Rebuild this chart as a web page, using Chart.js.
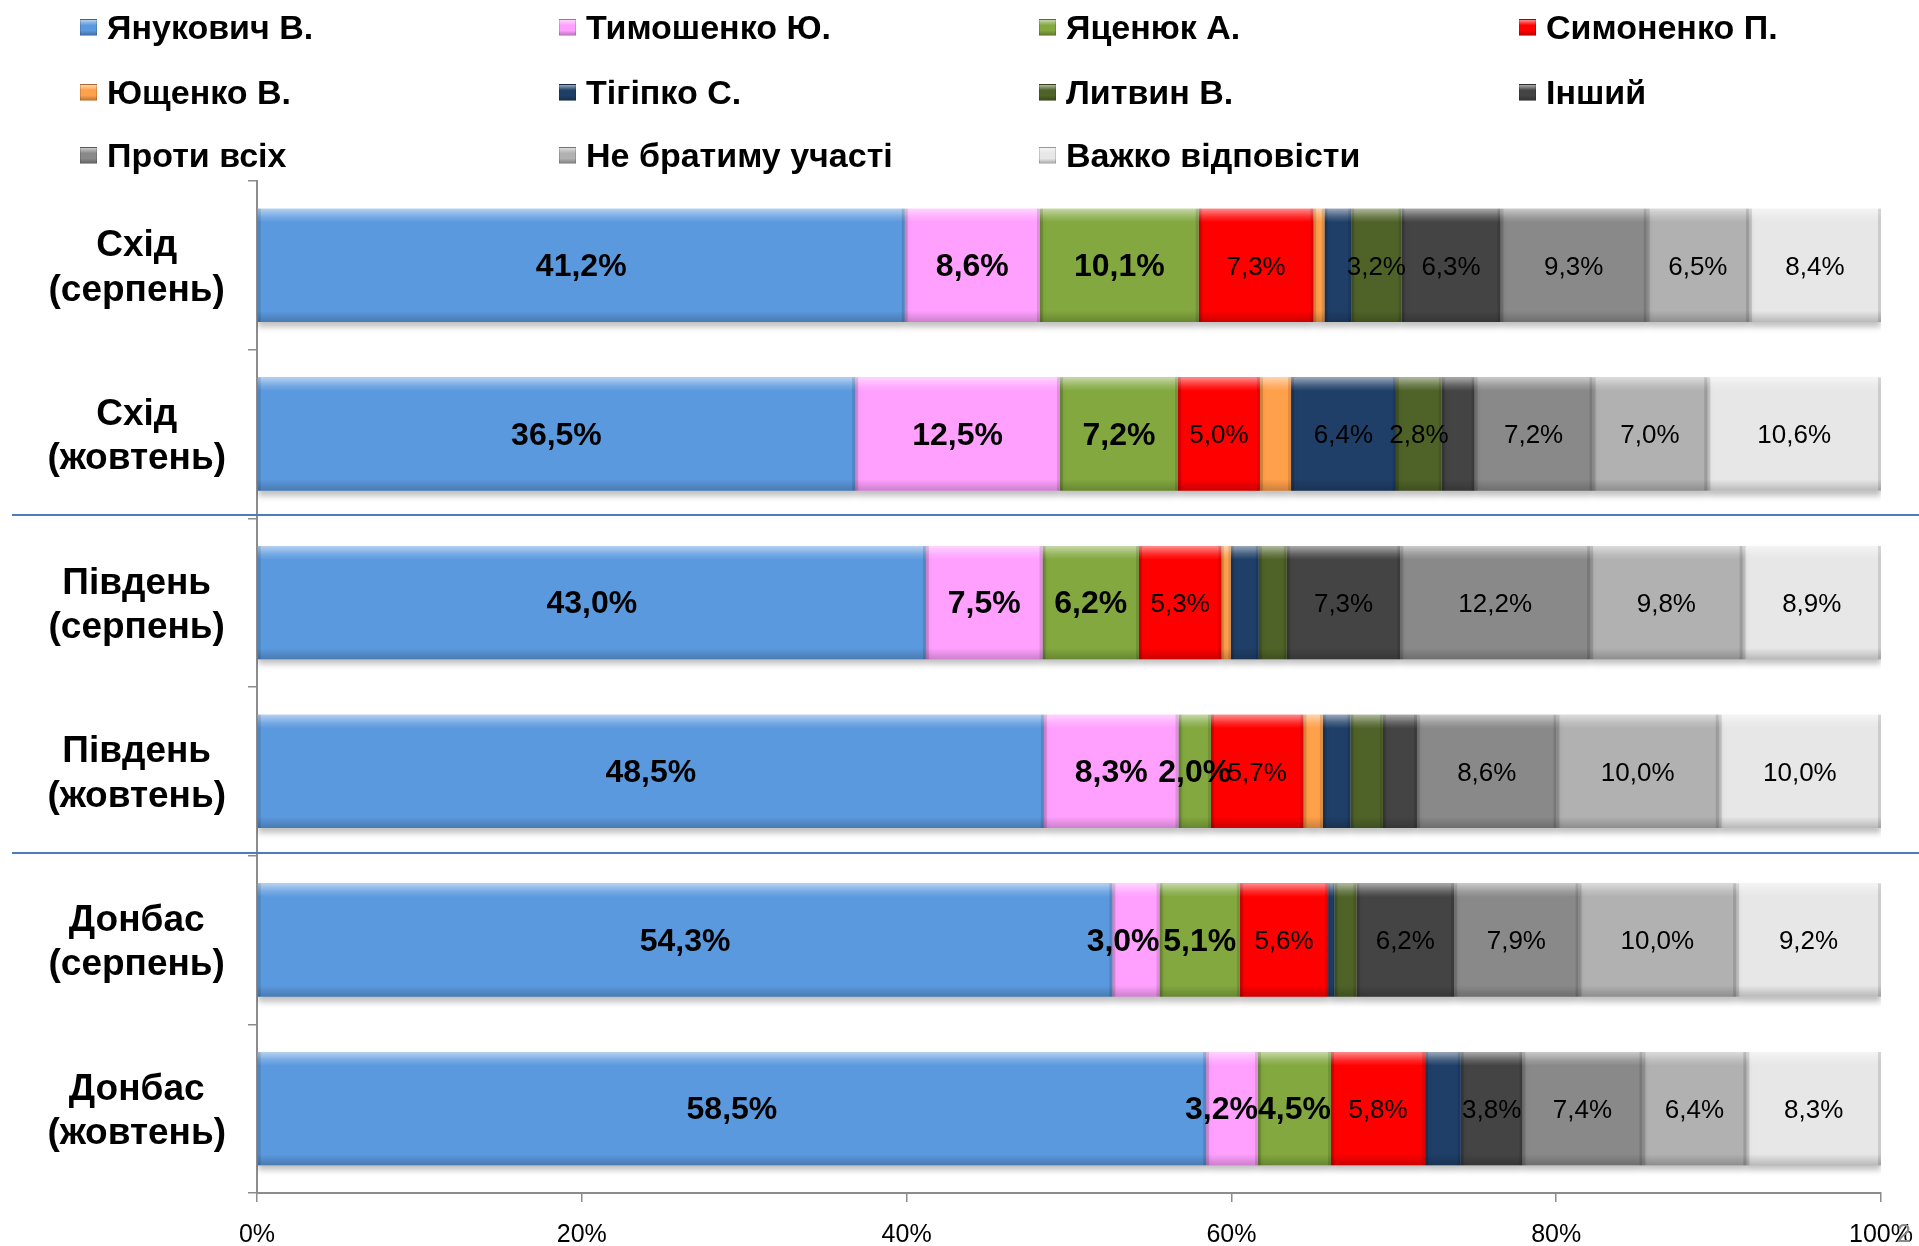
<!DOCTYPE html>
<html lang="uk">
<head>
<meta charset="utf-8">
<script src="https://cdn.jsdelivr.net/npm/chart.js@4.4.1/dist/chart.umd.min.js"></script>
<style>
  html, body { margin: 0; padding: 0; background: #fff; }
  #wrap { position: relative; width: 1919px; height: 1246px; font-family: 'Liberation Sans', Arial, sans-serif; }
  #chart { position: absolute; left: 0; top: 0; }
  .item { position: absolute; height: 40px; display: flex; align-items: center; font-weight: bold; font-size: 34px; color: #000; white-space: nowrap; }
  .box { width: 17px; height: 17px; margin-right: 10px; box-sizing: border-box; }
  #pagenum { position: absolute; left: 1897px; top: 1219px; font-size: 25px; color: #8a8a8a; }
</style>
</head>
<body>
<div id="wrap">
  <canvas id="chart" width="1919" height="1246"></canvas>
  <div id="legend"></div>
  <span id="pagenum">2</span>
</div>
<script>
// regions / months
const categories = [
  ['Схід', '(серпень)'],
  ['Схід', '(жовтень)'],
  ['Південь', '(серпень)'],
  ['Південь', '(жовтень)'],
  ['Донбас', '(серпень)'],
  ['Донбас', '(жовтень)']
];

const seriesNames = ['Янукович В.', 'Тимошенко Ю.', 'Яценюк А.', 'Симоненко П.', 'Ющенко В.',
  'Тігіпко С.', 'Литвин В.', 'Інший', 'Проти всіх', 'Не братиму участі', 'Важко відповісти'];

const yanukovych = [41.2, 36.5, 43.0, 48.5, 54.3, 58.5];
const tymoshenko = [8.6, 12.5, 7.5, 8.3, 3.0, 3.2];
const yatseniuk  = [10.1, 7.2, 6.2, 2.0, 5.1, 4.5];
const symonenko  = [7.3, 5.0, 5.3, 5.7, 5.6, 5.8];
const yushchenko = [0.7, 1.9, 0.6, 1.2, 0, 0];
const tihipko    = [1.7, 6.4, 1.8, 1.7, 0.4, 2.2];
const lytvyn     = [3.2, 2.8, 1.8, 2.0, 1.4, 0];
const other      = [6.3, 2.0, 7.3, 2.1, 6.2, 3.8];
const against    = [9.3, 7.2, 12.2, 8.6, 7.9, 7.4];
const notVoting  = [6.5, 7.0, 9.8, 10.0, 10.0, 6.4];
const hardToSay  = [8.4, 10.6, 8.9, 10.0, 9.2, 8.3];

const seriesValues = [yanukovych, tymoshenko, yatseniuk, symonenko, yushchenko,
  tihipko, lytvyn, other, against, notVoting, hardToSay];

// which segments carry a value label (1 = shown)
const labelShown = [
  [1, 1, 1, 1, 1, 1],
  [1, 1, 1, 1, 1, 1],
  [1, 1, 1, 1, 1, 1],
  [1, 1, 1, 1, 1, 1],
  [0, 0, 0, 0, 0, 0],
  [0, 1, 0, 0, 0, 0],
  [1, 1, 0, 0, 0, 0],
  [1, 0, 1, 0, 1, 1],
  [1, 1, 1, 1, 1, 1],
  [1, 1, 1, 1, 1, 1],
  [1, 1, 1, 1, 1, 1]
];

const xTicks = [0, 20, 40, 60, 80, 100];

const colors = ['#5b99de', '#ffa0ff', '#82a83f', '#ff0000', '#ffa04a', '#1f3f68',
  '#4f6328', '#444444', '#898989', '#b1b1b1', '#e7e7e7'];

const FONT = "'Liberation Sans', Arial, sans-serif";

// Excel-style 100% stacking: every row is scaled to its own total
const rowTotals = categories.map((c, i) => seriesValues.reduce((s, arr) => s + arr[i], 0));

const datasets = seriesNames.map((name, k) => ({
  label: name,
  data: seriesValues[k].map((v, i) => v / rowTotals[i] * 100),
  backgroundColor: colors[k],
  borderWidth: 0,
  barPercentage: 0.672,
  categoryPercentage: 1
}));

// html legend, four columns
const legendCols = [80, 559, 1039, 1519];
const legendRows = [27, 92, 155];
const legendEl = document.getElementById('legend');
seriesNames.forEach((name, k) => {
  const item = document.createElement('div');
  item.className = 'item';
  item.style.left = legendCols[k % 4] + 'px';
  item.style.top = (legendRows[Math.floor(k / 4)] - 20) + 'px';
  const box = document.createElement('span');
  box.className = 'box';
  box.style.background = `linear-gradient(to bottom, rgba(255,255,255,0.55), rgba(255,255,255,0) 35%, rgba(0,0,0,0) 70%, rgba(0,0,0,0.25)), ${colors[k]}`;
  box.style.border = '1px solid rgba(0,0,0,0.15)';
  item.appendChild(box);
  item.appendChild(document.createTextNode(name));
  legendEl.appendChild(item);
});

const fmt = v => v.toFixed(1).replace('.', ',') + '%';

const barStyle = {
  id: 'barStyle',
  beforeDatasetsDraw(chart) {
    const c = chart.ctx;
    c.save();
    c.shadowColor = 'rgba(0,0,0,0.25)';
    c.shadowBlur = 6;
    c.shadowOffsetY = 5;
  },
  afterDatasetsDraw(chart) {
    const c = chart.ctx;
    c.restore();
    chart.data.datasets.forEach((ds, k) => {
      chart.getDatasetMeta(k).data.forEach((bar, i) => {
        const { x, y, base, height } = bar.getProps(['x', 'y', 'base', 'height'], true);
        const left = Math.min(x, base);
        const w = Math.abs(x - base);
        if (w < 0.5) return;
        const top = y - height / 2;
        const g = c.createLinearGradient(0, top, 0, top + height);
        g.addColorStop(0, 'rgba(255,255,255,0.55)');
        g.addColorStop(0.07, 'rgba(255,255,255,0.18)');
        g.addColorStop(0.12, 'rgba(255,255,255,0)');
        g.addColorStop(0.9, 'rgba(0,0,0,0)');
        g.addColorStop(1, 'rgba(0,0,0,0.2)');
        c.fillStyle = g;
        c.fillRect(left, top, w, height);
        const e = Math.min(3, w / 4);
        c.fillStyle = 'rgba(0,0,0,0.12)';
        c.fillRect(left, top, e, height);
        c.fillRect(left + w - e, top, e, height);
      });
    });
    // value labels
    c.save();
    c.fillStyle = '#000';
    c.textBaseline = 'middle';
    chart.data.datasets.forEach((ds, k) => {
      c.font = k < 3 ? `bold 32px ${FONT}` : `26px ${FONT}`;
      chart.getDatasetMeta(k).data.forEach((bar, i) => {
        if (!labelShown[k][i]) return;
        const { x, y, base } = bar.getProps(['x', 'y', 'base'], true);
        const txt = fmt(seriesValues[k][i]);
        const tw = c.measureText(txt).width;
        // narrow Tymoshenko segments: the label is pushed left, ending at the segment end
        if (k === 1 && tw > x - base) {
          c.textAlign = 'right';
          c.fillText(txt, x, y + 2);
        } else {
          c.textAlign = 'center';
          c.fillText(txt, (x + base) / 2, y + 2);
        }
      });
    });
    c.restore();
  },
  afterDraw(chart) {
    const c = chart.ctx;
    const ys = chart.scales.y;
    c.save();
    c.strokeStyle = '#4a7ebb';
    c.lineWidth = 2;
    [1.5, 3.5].forEach(v => {
      const py = Math.round(ys.getPixelForValue(v)) - 3;
      c.beginPath();
      c.moveTo(12, py);
      c.lineTo(chart.width, py);
      c.stroke();
    });
    c.restore();
  }
};

new Chart(document.getElementById('chart'), {
  type: 'bar',
  data: { labels: categories, datasets: datasets },
  options: {
    indexAxis: 'y',
    responsive: false,
    animation: false,
    layout: { padding: { top: 181, right: 38, left: 0, bottom: 0 } },
    plugins: { legend: { display: false }, tooltip: { enabled: false } },
    scales: {
      x: {
        stacked: true,
        min: 0,
        max: 100,
        afterBuildTicks: s => { s.ticks = xTicks.map(v => ({ value: v })); },
        afterFit: s => { s.height = 53; s.paddingLeft = 0; s.paddingRight = 0; },
        ticks: {
          callback: v => v + '%',
          color: '#000',
          padding: 18,
          maxRotation: 0,
          font: { family: FONT, size: 25 }
        },
        grid: { drawOnChartArea: false, drawTicks: true, tickLength: 9, color: '#8c8c8c', lineWidth: 1.5 },
        border: { color: '#8c8c8c', width: 2 }
      },
      y: {
        stacked: true,
        afterFit: s => { s.width = 257; s.paddingTop = 0; s.paddingBottom = 0; },
        ticks: {
          color: '#000',
          crossAlign: 'center',
          padding: 22,
          labelOffset: 3,
          font: { family: FONT, size: 37, weight: 'bold', lineHeight: 1.2 }
        },
        grid: { drawOnChartArea: false, drawTicks: true, tickLength: 9, color: '#8c8c8c', lineWidth: 1.5 },
        border: { color: '#8c8c8c', width: 2 }
      }
    }
  },
  plugins: [barStyle]
});
</script>
</body>
</html>
